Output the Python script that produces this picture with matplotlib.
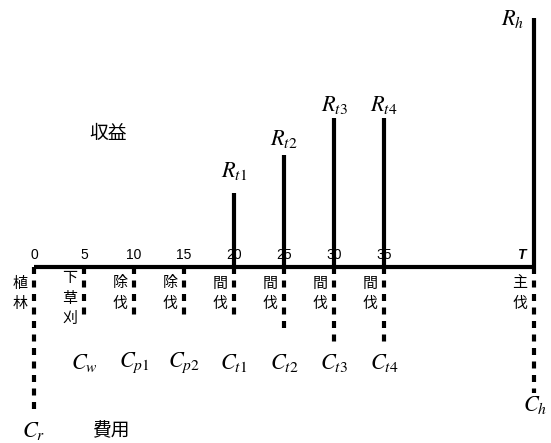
import matplotlib
matplotlib.use('Agg')
import matplotlib.pyplot as plt

plt.rcParams['font.family'] = ['Noto Sans CJK JP', 'DejaVu Sans']
plt.rcParams['mathtext.fontset'] = 'stix'

# 収益 (revenue) bars: thinnings + final harvest at T
rev_years = [20, 25, 30, 35, 50]
rev_height = [74, 112, 149, 149, 249]
rev_labels = [r'$R_{t1}$', r'$R_{t2}$', r'$R_{t3}$', r'$R_{t4}$', r'$R_h$']

# 費用 (cost) bars
cost_years = [0, 5, 10, 15, 20, 25, 30, 35, 50]
cost_depth = [148, 50, 50, 50, 50, 63, 75, 75, 126]
cost_labels = [r'$C_r$', r'$C_w$', r'$C_{p1}$', r'$C_{p2}$', r'$C_{t1}$',
               r'$C_{t2}$', r'$C_{t3}$', r'$C_{t4}$', r'$C_h$']
work_labels = ['植林', '下草刈', '除伐', '除伐', '間伐', '間伐', '間伐', '間伐', '主伐']

tick_years = [0, 5, 10, 15, 20, 25, 30, 35]
T_year = 50

fig = plt.figure(figsize=(5.51, 4.43), dpi=100)
ax = fig.add_axes([0, 0, 1, 1])
ax.set_xlim(-3.4, 51.7)
ax.set_ylim(-176, 267)
ax.axis('off')

# time axis
ax.plot([0, T_year], [0, 0], color='black', lw=3, solid_capstyle='butt')

ax.vlines(rev_years, 0, rev_height, color='black', lw=3)
# dashes start at the axis and run downwards
ax.vlines(cost_years, 0, [-d for d in cost_depth], color='black', lw=3,
          linestyles=[(0, (1.68, 1.56))])

for x in tick_years:
    ax.text(x, 12, str(x), ha='center', va='center', fontsize=10,
            family=['Liberation Sans'])
ax.text(T_year - 1.3, 12, 'T', ha='center', va='center', fontsize=10,
        fontweight='bold', style='italic', family=['Liberation Sans'])

rev_dx = [0, 0, 0, 0, -2.1]
rev_dy = [23, 16, 14, 14, 0]
for x, h, lab, dx, dy in zip(rev_years, rev_height, rev_labels, rev_dx, rev_dy):
    ax.text(x + dx, h + dy, lab, ha='center', va='center', fontsize=16)

cost_dx = [0, 0, 0, 0, 0, 0, 0, 0, 0.1]
cost_y = [-164, -96, -96, -96, -96, -96, -96, -96, -138]
for x, lab, dx, cy in zip(cost_years, cost_labels, cost_dx, cost_y):
    ax.text(x + dx, cy, lab, ha='center', va='center', fontsize=16)

# vertical work labels, one character per row
for x, lab in zip(cost_years, work_labels):
    y0 = -11 if len(lab) == 3 else -16.5
    for i, ch in enumerate(lab):
        ax.text(x - 1.4, y0 - 20.5 * i, ch, ha='center', va='center',
                fontsize=10.8)

ax.text(7.4, 134, '収益', ha='center', va='center', fontsize=13.5)
ax.text(7.7, -164, '費用', ha='center', va='center', fontsize=13.5)

fig.savefig('out.png', dpi=100)
